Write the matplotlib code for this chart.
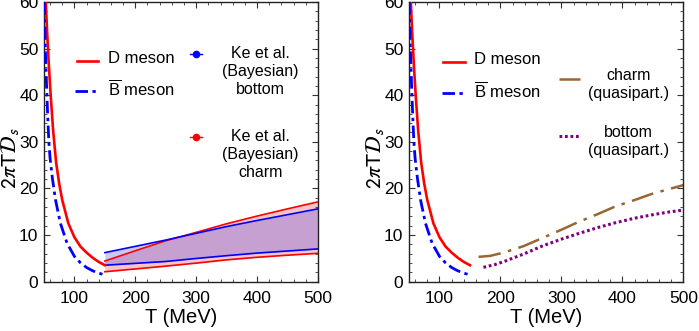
import numpy as np
import matplotlib
matplotlib.use("Agg")
import matplotlib.pyplot as plt
from matplotlib.ticker import MultipleLocator
from matplotlib.lines import Line2D

plt.rcParams['font.family'] = ['Liberation Sans', 'DejaVu Sans']
plt.rcParams['mathtext.fontset'] = 'custom'
plt.rcParams['mathtext.rm'] = 'Liberation Sans'
plt.rcParams['mathtext.it'] = 'Liberation Sans:italic'

# ---- data ----
T_D = [53, 55, 58, 61, 65, 70, 75, 80, 90, 100, 110, 120, 130, 140, 150]
D_meson = [60, 54, 46.5, 40, 32.5, 25.5, 21, 17.5, 12.5, 9.5, 7.5, 6.2, 5.1, 4.2, 3.5]

T_B = [50.5, 52, 54, 56, 58, 60, 64, 69, 77, 88, 100, 110, 120, 130, 140, 150]
B_meson = [60, 51, 43, 36, 30, 26.5, 22, 17.5, 12.5, 8.2, 5.4, 4.0, 3.0, 2.3, 1.8, 1.4]

T_band = [150, 200, 250, 300, 350, 400, 450, 500]
bottom_hi = [6.2, 7.55, 8.9, 10.35, 11.8, 13.1, 14.35, 15.6]
bottom_lo = [3.5, 3.9, 4.3, 4.95, 5.55, 6.1, 6.55, 7.0]
charm_hi = [4.4, 6.6, 8.75, 10.55, 12.4, 14.05, 15.6, 17.1]
charm_lo = [2.1, 2.7, 3.3, 3.95, 4.65, 5.2, 5.65, 6.05]

T_qc = [164, 183, 205, 238, 268, 303, 328, 360, 388, 420, 448, 475, 500]
charm_qp = [5.3, 5.5, 6.2, 7.6, 9.3, 11.3, 12.8, 14.5, 16.1, 17.5, 18.8, 19.8, 20.7]
T_qb = [172, 190, 205, 238, 268, 300, 328, 360, 388, 420, 448, 475, 500]
bottom_qp = [3.05, 3.6, 4.25, 5.9, 7.6, 9.1, 10.3, 11.6, 12.6, 13.6, 14.3, 14.9, 15.35]

xticks = [100, 200, 300, 400, 500]
yticks = [0, 10, 20, 30, 40, 50, 60]

RED = '#ff0000'
BLUE = '#0000ff'
BROWN = '#996633'
PURPLE = '#800080'

fig = plt.figure(figsize=(6.99, 3.31), dpi=100)
ax1 = fig.add_axes([0.0629, 0.1495, 0.392, 0.8444])
ax2 = fig.add_axes([0.5851, 0.1495, 0.3927, 0.8444])

dashdot_B = (0, (4.5, 1.6, 1.2, 1.6))
longdash = (0, (9, 3, 1.4, 3))
dotted = (0, (0.9, 0.9))

for ax in (ax1, ax2):
    ax.set_xlim(50, 500)
    ax.set_ylim(0, 60)
    ax.set_xticks(xticks)
    ax.set_yticks(yticks)
    ax.xaxis.set_minor_locator(MultipleLocator(20))
    ax.yaxis.set_minor_locator(MultipleLocator(2))
    ax.tick_params(which='both', direction='in', top=True, right=True,
                   labelsize=12.5, color='#333333')
    ax.tick_params(which='major', length=4, width=0.8)
    ax.tick_params(which='minor', length=2.2, width=0.6)
    ax.tick_params(axis='x', pad=7)
    ax.tick_params(axis='y', pad=4)
    for s in ax.spines.values():
        s.set_linewidth(1.0)
        s.set_color('#222222')
    ax.set_xlabel('T (MeV)', fontsize=14.5, labelpad=1)
    ax.set_ylabel(r'$2\pi\mathrm{T}\mathcal{D}_s$', fontsize=15.5,
                  math_fontfamily='stixsans')
    ax.yaxis.set_label_coords(-0.084, 0.44)
    ax.plot(T_D, D_meson, color=RED, lw=1.9, zorder=4, clip_on=True)
    ax.plot(T_B, B_meson, color=BLUE, lw=2.0, ls=dashdot_B, zorder=4)

# left panel bands
bl = np.array(bottom_lo); bh = np.array(bottom_hi)
cl = np.array(charm_lo); ch = np.array(charm_hi)
ax1.fill_between(T_band, cl, ch, color='#f8c4c6', lw=0, zorder=1)
ax1.fill_between(T_band, bl, bh, color='#c9c9f6', lw=0, zorder=1)
ax1.fill_between(T_band, np.maximum(bl, cl), np.minimum(bh, ch),
                 color='#c6a0d0', lw=0, zorder=2)
ax1.plot(T_band, charm_hi, color=RED, lw=1.2, zorder=3)
ax1.plot(T_band, charm_lo, color=RED, lw=1.2, zorder=3)
ax1.plot(T_band, bottom_hi, color=BLUE, lw=1.2, zorder=3)
ax1.plot(T_band, bottom_lo, color=BLUE, lw=1.2, zorder=3)

# right panel quasiparticle curves
ax2.plot(T_qc, charm_qp, color=BROWN, lw=1.8, ls=longdash)
ax2.plot(T_qb, bottom_qp, color=PURPLE, lw=2.2, ls=dotted)

# ---- legends (drawn in axes coordinates) ----
def legline(ax, x0, x1, y, **kw):
    ax.add_line(Line2D([x0, x1], [y, y], transform=ax.transAxes, **kw))

legfs = 12
# left panel
legline(ax1, 0.120, 0.197, 0.790, color=RED, lw=1.9)
ax1.text(0.2336, 0.797, 'D meson', transform=ax1.transAxes, fontsize=legfs, va='center')
legline(ax1, 0.113, 0.197, 0.683, color=BLUE, lw=2.0, ls=dashdot_B)
ax1.text(0.2336, 0.690, r'$\overline{\mathrm{B}}$ meson', transform=ax1.transAxes,
         fontsize=legfs, va='center')

for (ymark, ytext, col, lab) in [(0.814, 0.842, BLUE, 'Ke et al.\n(Bayesian)\nbottom'),
                                  (0.517, 0.545, RED, 'Ke et al.\n(Bayesian)\ncharm')]:
    legline(ax1, 0.5328, 0.5766, ymark, color=col, lw=1.0)
    ax1.plot([0.5547], [ymark], marker='o', ms=4.5, color=col,
             transform=ax1.transAxes, clip_on=False)
    ax1.text(0.790, ytext, lab, transform=ax1.transAxes, fontsize=11.5,
             va='top', ha='center', multialignment='center', linespacing=1.25)

# right panel
legline(ax2, 0.124, 0.204, 0.787, color=RED, lw=1.9)
ax2.text(0.2368, 0.794, 'D meson', transform=ax2.transAxes, fontsize=legfs, va='center')
legline(ax2, 0.120, 0.204, 0.676, color=BLUE, lw=2.0, ls=dashdot_B)
ax2.text(0.2368, 0.683, r'$\overline{\mathrm{B}}$ meson', transform=ax2.transAxes,
         fontsize=legfs, va='center')
legline(ax2, 0.546, 0.623, 0.726, color=BROWN, lw=1.8, ls=longdash)
ax2.text(0.801, 0.765, 'charm\n(quasipart.)', transform=ax2.transAxes, fontsize=11.5,
         va='top', ha='center', multialignment='center', linespacing=1.25)
legline(ax2, 0.546, 0.623, 0.520, color=PURPLE, lw=2.2, ls=dotted)
ax2.text(0.801, 0.560, 'bottom\n(quasipart.)', transform=ax2.transAxes, fontsize=11.5,
         va='top', ha='center', multialignment='center', linespacing=1.25)

fig.savefig('out.png', dpi=100)
